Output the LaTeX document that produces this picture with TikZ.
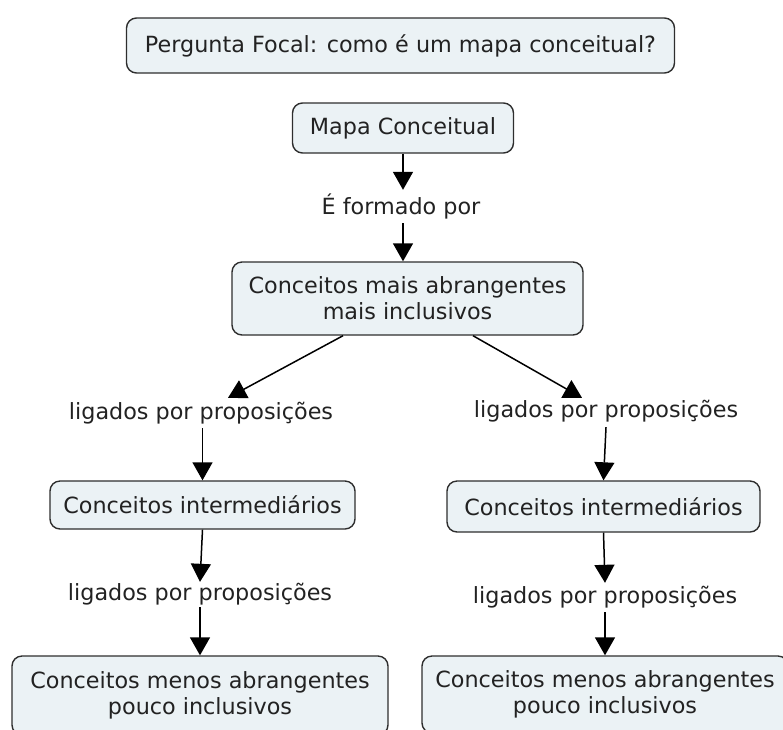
\documentclass[tikz,border=0pt]{standalone}
\usepackage{fontspec}
\setmainfont{DejaVu Sans}
\usetikzlibrary{arrows.meta,calc}
\definecolor{boxfill}{HTML}{EBF2F5}
\definecolor{boxline}{HTML}{2E2E2E}
\definecolor{txt}{HTML}{222222}
\begin{document}
\begin{tikzpicture}[x=1pt,y=-1pt,
  concept/.style={draw=boxline,fill=boxfill,line width=1.4pt,rounded corners=10pt,
    text=txt,font=\fontsize{22.3}{26}\selectfont,align=center,inner sep=0pt},
  linkword/.style={text=txt,font=\fontsize{22.3}{26}\selectfont,inner sep=0pt},
  arr/.style={draw=black,line width=1.5pt,-{Triangle[width=20pt,length=18pt]}}]
\useasboundingbox (0,0) rectangle (783,729);
\clip (0,0) rectangle (783,729);
\node[concept,minimum width=548pt,minimum height=55pt] (focal) at (400.5,45.5) {Pergunta Focal: como é um mapa conceitual?};
\node[concept,minimum width=221pt,minimum height=50pt] (mapa) at (403,128) {Mapa Conceitual};
\node[linkword,minimum height=33pt] (formado) at (401,206.5) {É formado por};
\node[concept,minimum width=351pt,minimum height=73pt] (mais) at (407.5,298.5) {Conceitos mais abrangentes\\mais inclusivos};
\node[linkword,minimum height=30pt] (lblL1) at (201,413) {ligados por proposições};
\node[linkword,minimum height=32pt] (lblR1) at (606,411) {ligados por proposições};
\node[concept,minimum width=305pt,minimum height=48pt] (intL) at (202.5,505) {Conceitos intermediários};
\node[concept,minimum width=313pt,minimum height=51pt] (intR) at (603.5,506.5) {Conceitos intermediários};
\node[linkword,minimum height=25pt] (lblL2) at (200,594.5) {ligados por proposições};
\node[linkword,minimum height=29pt] (lblR2) at (605,597.5) {ligados por proposições};
\node[concept,minimum width=376pt,minimum height=79pt] (menosL) at (200,695.5) {Conceitos menos abrangentes\\pouco inclusivos};
\node[concept,minimum width=366pt,minimum height=77pt] (menosR) at (605,694.5) {Conceitos menos abrangentes\\pouco inclusivos};
\draw[arr] (mapa.south) -- (mapa.south |- formado.north);
\draw[arr] (mapa.south |- formado.south) -- (mapa.south |- mais.north);
\draw[arr] ($(mais.south)+(-64.5,0)$) -- ($(lblL1.north)+(27,0)$);
\draw[arr] ($(mais.south)+(65.5,0)$) -- ($(lblR1.north)+(-24,3)$);
\draw[arr] (lblL1.south -| intL.north) -- (intL.north);
\draw[arr] (lblR1.south) -- (intR.north);
\draw[arr] (intL.south) -- (lblL2.north);
\draw[arr] (intR.south) -- (lblR2.north);
\draw[arr] (lblL2.south) -- (menosL.north);
\draw[arr] (lblR2.south) -- (menosR.north);
\end{tikzpicture}
\end{document}
